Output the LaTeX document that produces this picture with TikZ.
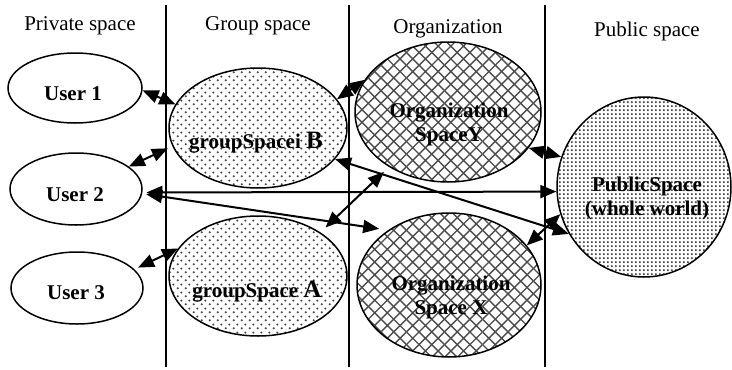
\documentclass[tikz,border=0pt]{standalone}
\usepackage{fontspec}
\setmainfont{Liberation Serif}
\usetikzlibrary{shapes.geometric,arrows.meta,patterns,patterns.meta}
% diagonal crosshatch forming diamonds, 12.7pt across
\pgfdeclarepatternformonly{diamondhatch}{\pgfqpoint{-0.1pt}{-0.1pt}}{\pgfqpoint{12.8pt}{12.8pt}}{\pgfqpoint{12.7pt}{12.7pt}}{%
  \pgfsetlinewidth{1.4pt}%
  \pgfpathmoveto{\pgfqpoint{-0.1pt}{-0.1pt}}\pgfpathlineto{\pgfqpoint{12.8pt}{12.8pt}}%
  \pgfpathmoveto{\pgfqpoint{-0.1pt}{12.8pt}}\pgfpathlineto{\pgfqpoint{12.8pt}{-0.1pt}}%
  \pgfusepath{stroke}}
% staggered sparse dots
\pgfdeclarepatternformonly{sparsedots}{\pgfqpoint{0pt}{0pt}}{\pgfqpoint{8pt}{8pt}}{\pgfqpoint{8pt}{8pt}}{%
  \pgfpathcircle{\pgfqpoint{2pt}{2pt}}{1.25pt}%
  \pgfpathcircle{\pgfqpoint{6pt}{6pt}}{1.25pt}%
  \pgfusepath{fill}}
% dense square grid of dots
\pgfdeclarepatternformonly{densedots}{\pgfqpoint{0pt}{0pt}}{\pgfqpoint{4.3pt}{4.3pt}}{\pgfqpoint{4.3pt}{4.3pt}}{%
  \pgfpathcircle{\pgfqpoint{2.15pt}{2.15pt}}{1.3pt}%
  \pgfusepath{fill}}
\begin{document}
\begin{tikzpicture}[x=1pt,y=-1pt,
  >={Triangle[length=16pt,width=13pt]},
  space/.style={ellipse,draw,line width=1.5pt,inner sep=0pt},
  userspace/.style={space},
  grpspace/.style={space,pattern=sparsedots,pattern color=black!75},
  orgspace/.style={space,pattern=diamondhatch,pattern color=black!70},
  pubspace/.style={space,pattern=densedots,pattern color=black!75},
  heading/.style={font=\fontsize{21}{24}\selectfont,anchor=base,inner sep=0pt},
  spacename/.style={font=\fontsize{21}{24}\selectfont\bfseries,inner sep=0pt,align=center},
  divider/.style={line width=1.5pt},
  biarrow/.style={line width=2pt,<->}
]
\useasboundingbox (0,0) rectangle (732,370);

% column dividers
\coordinate (d1t) at (166,5);  \coordinate (d1b) at (166,367);
\coordinate (d2t) at (349,5);  \coordinate (d2b) at (349,367);
\coordinate (d3t) at (545,5);  \coordinate (d3b) at (545,367);
\draw[divider] (d1t) -- (d1b);
\draw[divider] (d2t) -- (d2b);
\draw[divider] (d3t) -- (d3b);

% column headings
\node[heading] (h1) at (80,30) {Private space};
\node[heading] (h2) at (258,30) {Group space};
\node[heading] (h3) at (448,33) {Organization};
\node[heading] (h4) at (647,36) {Public space};

% spaces
\node[userspace,minimum width=134pt,minimum height=70pt] (u1) at (75,88) {};
\node[userspace,minimum width=132pt,minimum height=72pt] (u2) at (76,189) {};
\node[userspace,minimum width=132pt,minimum height=72pt] (u3) at (77,288) {};
\node[grpspace,minimum width=178pt,minimum height=120pt] (gB) at (258,128) {};
\node[grpspace,minimum width=178pt,minimum height=120pt] (gA) at (258,276) {};
\node[orgspace,minimum width=186pt,minimum height=140pt] (oY) at (448,112) {};
\node[orgspace,minimum width=184pt,minimum height=144pt] (oX) at (449,285) {};
\node[pubspace,minimum width=174pt,minimum height=180pt] (pub) at (644,187) {};

% connectors
\draw[biarrow] (u1.-2) -- (gB.164);
\draw[biarrow,shorten >=5pt] (u2.23) -- (gB.192);
\draw[biarrow,shorten <=4pt] (u2.-3) -- (pub.183);
\draw[biarrow,shorten <=4pt,shorten >=9pt] (u2.-4) -- (oX.138);
\draw[biarrow] (gB.-22) -- (pub.212);
\draw[biarrow,shorten <=7pt,shorten >=7pt] (gA.35) -- (oY.223);
\draw[biarrow] (gB.20) -- (oY.159);
\draw[biarrow] (oY.-24) -- (pub.160);
\draw[biarrow] (oX.27) -- (pub.198);
\draw[biarrow,shorten <=4pt] (u3.18) -- (gA.161);

% names
\node[spacename,anchor=base] (t1) at (73,100) {User 1};
\node[spacename,anchor=base] (t2) at (75,201) {User 2};
\node[spacename,anchor=base] (t3) at (76,299) {User 3};
\node[spacename,anchor=base] (tB) at (256,148) {groupSpacei {\fontsize{25}{28}\selectfont B}};
\node[spacename,anchor=base] (tA) at (257,297) {groupSpace {\fontsize{25}{28}\selectfont A}};
\node[spacename] (tY) at (449,124) {Organization\\SpaceY};
\node[spacename] (tX) at (451,297) {Organization\\Space X};
\node[spacename] (tP) at (647,198) {PublicSpace\\(whole world)};
\end{tikzpicture}
\end{document}
